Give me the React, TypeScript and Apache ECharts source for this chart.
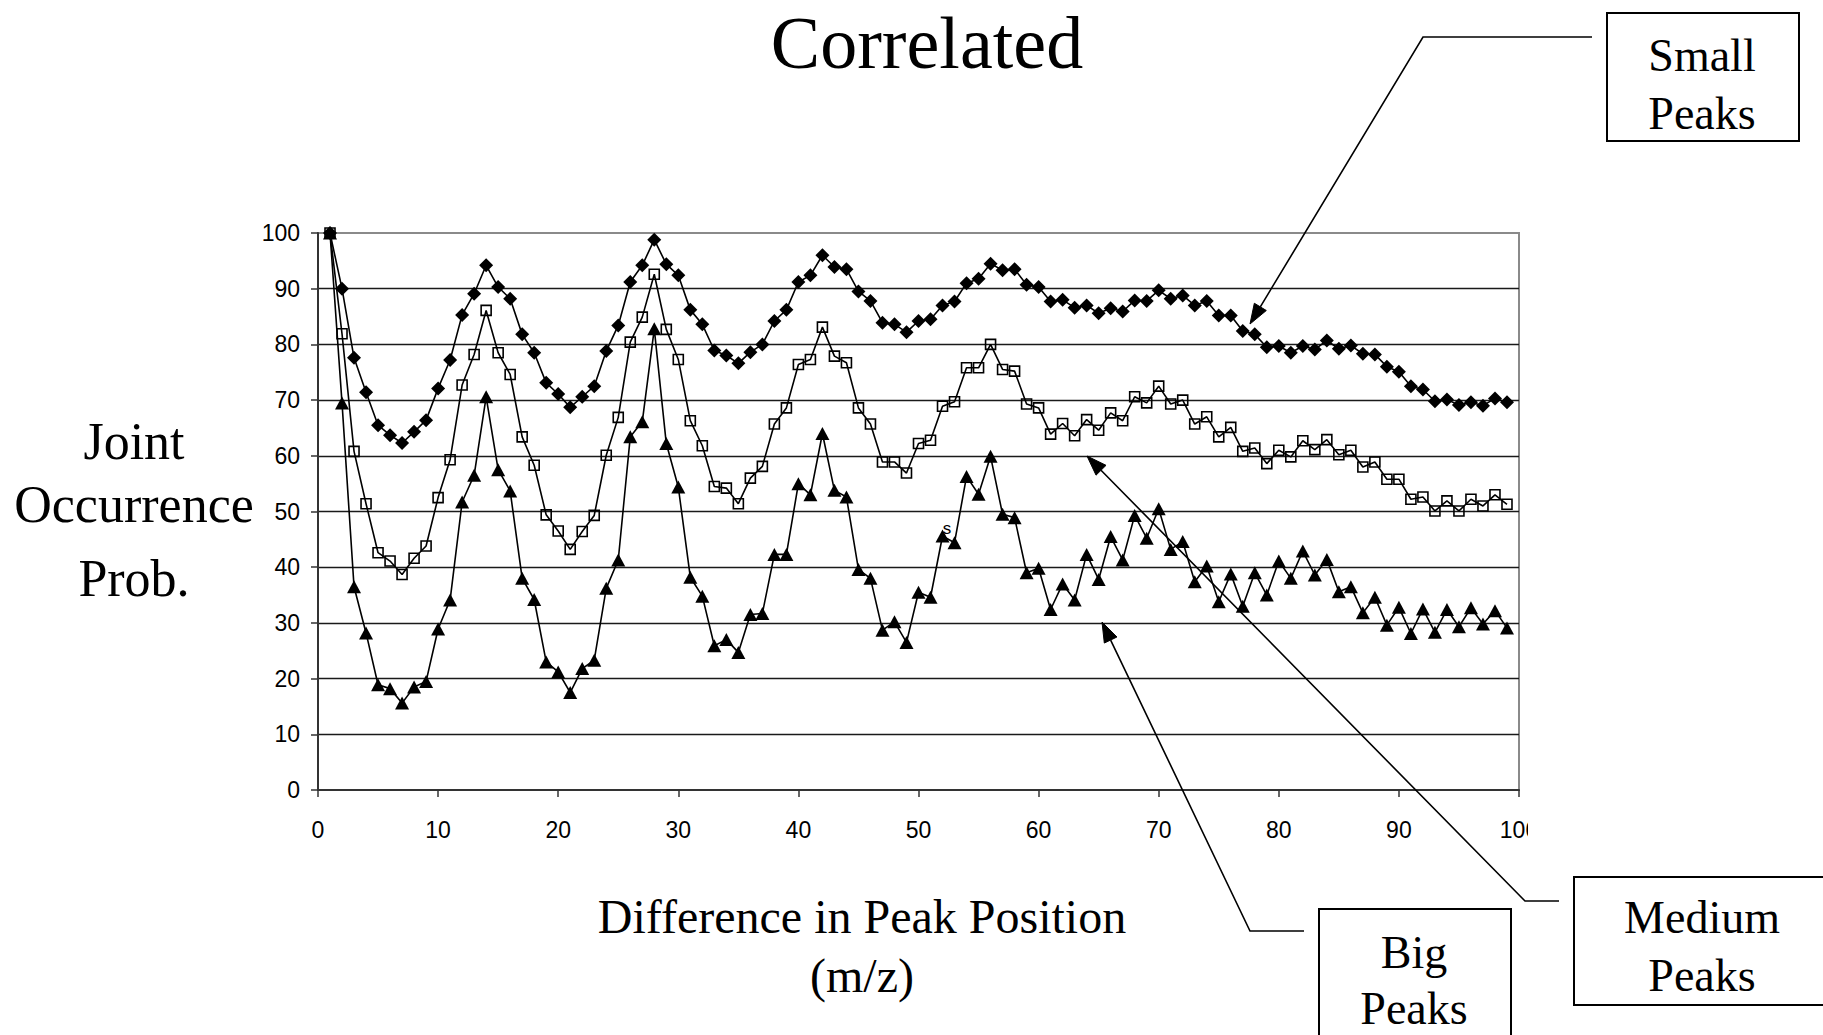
import React, { useEffect, useRef } from "react";
import * as echarts from "echarts";

// Joint occurrence probability (%) at peak-position differences 1..99 m/z
const smallPeaks = [
  100, 90.0, 77.6, 71.4, 65.5, 63.7, 62.3, 64.3, 66.4, 72.1,
  77.2, 85.3, 89.1, 94.2, 90.3, 88.2, 81.8, 78.5, 73.1, 71.1,
  68.7, 70.6, 72.5, 78.8, 83.4, 91.2, 94.2, 98.8, 94.4, 92.4,
  86.2, 83.6, 78.9, 78.0, 76.6, 78.6, 80.0, 84.2, 86.2, 91.2,
  92.4, 96.0, 93.9, 93.5, 89.5, 87.8, 83.9, 83.6, 82.2, 84.2,
  84.5, 87.0, 87.7, 91.0, 91.8, 94.5, 93.3, 93.5, 90.7, 90.3,
  87.7, 88.0, 86.6, 87.0, 85.6, 86.5, 85.9, 87.9, 87.8, 89.7,
  88.2, 88.8, 87.0, 87.8, 85.2, 85.2, 82.4, 81.8, 79.5, 79.7,
  78.5, 79.7, 79.1, 80.7, 79.2, 79.8, 78.3, 78.2, 76.0, 75.1,
  72.5, 71.9, 69.8, 70.1, 69.1, 69.6, 69.0, 70.3, 69.6,
];

const mediumPeaks = [
  100, 81.9, 60.8, 51.4, 42.6, 41.1, 38.7, 41.6, 43.8, 52.5,
  59.3, 72.7, 78.2, 86.1, 78.5, 74.6, 63.4, 58.3, 49.4, 46.5,
  43.2, 46.4, 49.3, 60.1, 66.9, 80.4, 84.9, 92.6, 82.7, 77.3,
  66.3, 61.8, 54.5, 54.2, 51.4, 56.0, 58.1, 65.7, 68.6, 76.4,
  77.3, 83.1, 77.9, 76.7, 68.6, 65.7, 58.9, 58.9, 56.9, 62.2,
  62.8, 68.9, 69.7, 75.8, 75.8, 80.0, 75.5, 75.2, 69.3, 68.6,
  63.9, 65.8, 63.6, 66.5, 64.6, 67.7, 66.3, 70.6, 69.5, 72.5,
  69.3, 70.0, 65.7, 67.0, 63.4, 65.1, 60.8, 61.4, 58.6, 61.0,
  59.8, 62.7, 61.1, 62.9, 60.2, 61.0, 58.0, 58.9, 55.8, 55.8,
  52.2, 52.6, 50.1, 51.9, 50.1, 52.2, 51.0, 53.0, 51.3,
];

const bigPeaks = [
  100, 69.5, 36.5, 28.2, 18.9, 18.2, 15.6, 18.5, 19.5, 28.9,
  34.1, 51.7, 56.5, 70.6, 57.5, 53.7, 38.0, 34.2, 23.0, 21.2,
  17.5, 21.8, 23.3, 36.2, 41.3, 63.4, 66.1, 82.8, 62.2, 54.4,
  38.2, 34.8, 25.9, 27.0, 24.7, 31.5, 31.7, 42.3, 42.3, 55.0,
  53.0, 64.0, 53.8, 52.6, 39.6, 38.0, 28.7, 30.2, 26.5, 35.5,
  34.6, 45.6, 44.4, 56.3, 53.1, 59.9, 49.5, 48.9, 39.0, 39.8,
  32.4, 37.0, 34.1, 42.3, 37.8, 45.5, 41.3, 49.3, 45.2, 50.5,
  43.2, 44.6, 37.4, 40.2, 33.8, 38.8, 33.0, 39.0, 35.0, 41.1,
  38.0, 42.9, 38.6, 41.4, 35.6, 36.5, 31.8, 34.6, 29.6, 32.8,
  28.1, 32.5, 28.3, 32.4, 29.3, 32.7, 29.8, 32.2, 29.1,
];

const firstPosition = 1;
const positions = smallPeaks.map((_, i) => firstPosition + i);

const titleText = "Correlated";
const yTitleLines = ["Joint", "Occurrence", "Prob."];
const xTitleLines = ["Difference in Peak Position", "(m/z)"];
const smallLabel = ["Small", "Peaks"];
const mediumLabel = ["Medium", "Peaks"];
const bigLabel = ["Big", "Peaks"];

const SERIF = '"Liberation Serif", "Times New Roman", serif';
const SANS = '"Liberation Sans", Arial, sans-serif';

const W = 1823;
const H = 1035;

function pairs(values: number[]) {
  return values.map((v, i) => [positions[i], v]);
}

function text(str: string, x: number, y: number, size: number, extra: any = {}) {
  return {
    type: "text",
    x,
    y,
    z: 50,
    style: {
      text: str,
      font: `${size}px ${SERIF}`,
      fill: "#000",
      align: "center",
      verticalAlign: "middle",
      textAlign: "center",
      textVerticalAlign: "middle",
      ...extra,
    },
  };
}

// Leader line: polyline through the given points, ending in a filled arrowhead
function leader(points: number[][]) {
  const n = points.length;
  const [tx, ty] = points[n - 1];
  const [px, py] = points[n - 2];
  const dx = tx - px;
  const dy = ty - py;
  const len = Math.sqrt(dx * dx + dy * dy);
  const ux = dx / len;
  const uy = dy / len;
  const headLen = 20;
  const headHalf = 7;
  const bx = tx - ux * headLen;
  const by = ty - uy * headLen;
  const linePts = points.slice(0, n - 1).concat([[bx, by]]);
  return [
    {
      type: "polyline",
      z: 40,
      shape: { points: linePts },
      style: { stroke: "#000", lineWidth: 1.6, fill: null },
    },
    {
      type: "polygon",
      z: 40,
      shape: {
        points: [
          [tx, ty],
          [bx - uy * headHalf, by + ux * headHalf],
          [bx + uy * headHalf, by - ux * headHalf],
        ],
      },
      style: { fill: "#000", stroke: "#000", lineWidth: 1 },
    },
  ];
}

function box(x: number, y: number, w: number, h: number) {
  return {
    type: "rect",
    z: 45,
    shape: { x, y, width: w, height: h },
    style: { fill: "#fff", stroke: "#000", lineWidth: 2 },
  };
}

export default function App() {
  const ref = useRef<HTMLDivElement>(null);

  useEffect(() => {
    if (!ref.current) return;
    const chart = echarts.init(ref.current, null, { renderer: "svg" });

    const lineCommon = {
      type: "line",
      clip: false,
      smooth: false,
      showAllSymbol: true,
      emphasis: { disabled: true },
    };

    const option: any = {
      animation: false,
      backgroundColor: "#fff",
      grid: {
        left: 318,
        right: W - 1519,
        top: 233,
        bottom: H - 790,
        show: true,
        borderColor: "#8a8a8a",
        borderWidth: 2,
        backgroundColor: "transparent",
      },
      xAxis: {
        type: "value",
        min: 0,
        max: 100,
        interval: 10,
        axisLine: { show: true, onZero: false, lineStyle: { color: "#333", width: 2 } },
        axisTick: { show: true, inside: false, length: 7, lineStyle: { color: "#333", width: 1.5 } },
        axisLabel: { margin: 28, fontFamily: SANS, fontSize: 23, color: "#000" },
        splitLine: { show: false },
      },
      yAxis: {
        type: "value",
        min: 0,
        max: 100,
        interval: 10,
        axisLine: { show: true, lineStyle: { color: "#333", width: 2 } },
        axisTick: { show: true, inside: false, length: 7, lineStyle: { color: "#333", width: 1.5 } },
        axisLabel: {
          margin: 18,
          fontFamily: SANS,
          fontSize: 23,
          color: "#000",
          padding: [8, 0, 0, 0],
        },
        splitLine: {
          show: true,
          showMaxLine: false,
          showMinLine: false,
          lineStyle: { color: "#1a1a1a", width: 1.3 },
        },
      },
      series: [
        {
          ...lineCommon,
          name: "Small Peaks",
          data: pairs(smallPeaks),
          symbol: "diamond",
          symbolSize: 14,
          lineStyle: { color: "#000", width: 1.6 },
          itemStyle: { color: "#000", borderColor: "#000", borderWidth: 0 },
          z: 3,
        },
        {
          ...lineCommon,
          name: "Medium Peaks",
          data: pairs(mediumPeaks),
          symbol: "rect",
          symbolSize: 10,
          lineStyle: { color: "#000", width: 1.6 },
          itemStyle: { color: "rgba(0,0,0,0)", borderColor: "#000", borderWidth: 1.6 },
          z: 4,
        },
        {
          ...lineCommon,
          name: "Big Peaks",
          data: pairs(bigPeaks),
          symbol: "triangle",
          symbolSize: [14, 13],
          lineStyle: { color: "#000", width: 1.6 },
          itemStyle: { color: "#000", borderColor: "#000", borderWidth: 0 },
          z: 5,
        },
      ],
      graphic: [
        // clipped last tick label at the chart's right edge
        {
          type: "rect",
          z: 60,
          shape: { x: 1528, y: 812, width: 24, height: 36 },
          style: { fill: "#fff" },
        },
        text(titleText, 927, 43, 74),
        text(yTitleLines[0], 134, 441, 52),
        text(yTitleLines[1], 134, 504, 52),
        text(yTitleLines[2], 134, 578, 52),
        text(xTitleLines[0], 862, 916, 48),
        text(xTitleLines[1], 862, 975, 48),
        {
          type: "text",
          x: 947,
          y: 528,
          z: 50,
          style: {
            text: "s",
            font: `17px ${SANS}`,
            fill: "#000",
            align: "center",
            verticalAlign: "middle",
            textAlign: "center",
            textVerticalAlign: "middle",
          },
        },
        ...leader([
          [1592, 37],
          [1423, 37],
          [1250, 324],
        ]),
        ...leader([
          [1559, 901],
          [1525, 901],
          [1087, 456],
        ]),
        ...leader([
          [1304, 931],
          [1250, 931],
          [1102, 622],
        ]),
        box(1607, 13, 192, 128),
        text(smallLabel[0], 1702, 55, 46),
        text(smallLabel[1], 1702, 113, 46),
        box(1574, 877, 260, 128),
        text(mediumLabel[0], 1702, 917, 46),
        text(mediumLabel[1], 1702, 975, 46),
        box(1319, 909, 192, 140),
        text(bigLabel[0], 1414, 952, 46),
        text(bigLabel[1], 1414, 1008, 46),
      ],
    };

    chart.setOption(option);
    return () => chart.dispose();
  }, []);

  return (
    <div
      ref={ref}
      style={{ position: "absolute", left: 0, top: 0, width: W, height: H, background: "#fff" }}
    />
  );
}
